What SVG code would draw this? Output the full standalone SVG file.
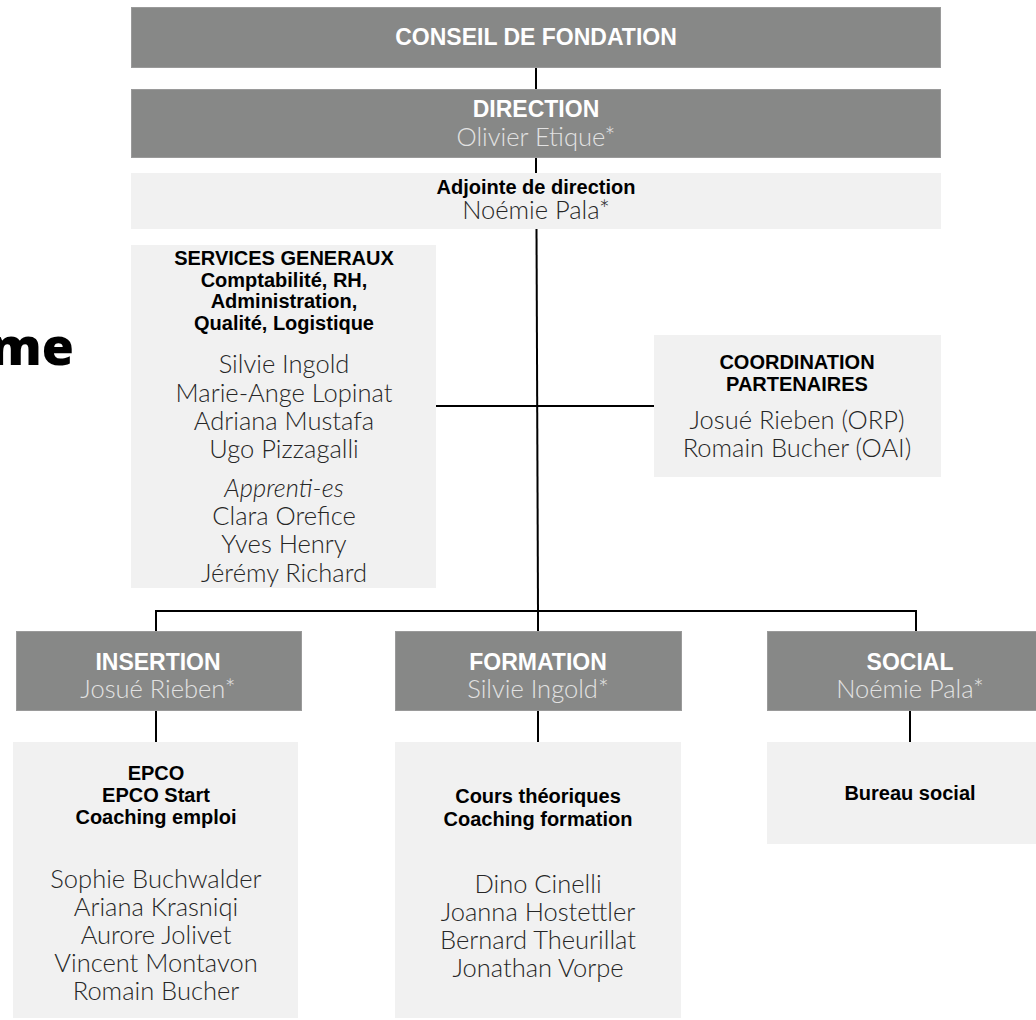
<svg xmlns="http://www.w3.org/2000/svg" width="1036" height="1020" viewBox="0 0 1036 1020">
<style>
.dark{fill:#878887;stroke:#9a9a9a;stroke-width:1}
.light{fill:#f1f1f1}
.h1{font-family:"Liberation Sans",Arial,sans-serif;font-weight:bold;font-size:23px;fill:#ffffff;text-anchor:middle}
.h2{font-family:"Liberation Sans",Arial,sans-serif;font-weight:bold;font-size:20px;fill:#000000;text-anchor:middle}
.nm{font-family:Lato,"Open Sans",sans-serif;font-weight:300;font-size:25.5px;fill:#262626;text-anchor:middle}
.nmw{font-family:Lato,"Open Sans",sans-serif;font-weight:300;font-size:25.5px;fill:#e2e2e2;text-anchor:middle}
.ln{stroke:#000;stroke-width:2;fill:none}
</style>
<rect width="1036" height="1020" fill="#ffffff"/>
<text x="74" y="365" font-family="'Open Sans',sans-serif" font-weight="800" font-size="52" text-anchor="end" fill="#000">me</text>
<g id="connectors">
<line class="ln" x1="536" y1="67" x2="536" y2="89"/>
<line class="ln" x1="536" y1="157" x2="536" y2="173"/>
<line class="ln" x1="536.5" y1="229" x2="538" y2="612"/>
<line class="ln" x1="436" y1="406" x2="655" y2="406"/>
<polyline class="ln" points="156,631 156,611 916,611 916,631"/>
<line class="ln" x1="538" y1="611" x2="538" y2="631"/>
<line class="ln" x1="156" y1="710" x2="156" y2="742"/>
<line class="ln" x1="538" y1="710" x2="538" y2="742"/>
<line class="ln" x1="910" y1="710" x2="910" y2="742"/>
</g>
<g id="conseil">
<rect class="dark" x="131.5" y="7.5" width="809" height="60"/>
<text class="h1" x="536" y="45">CONSEIL DE FONDATION</text>
</g>
<g id="direction">
<rect class="dark" x="131.5" y="89.5" width="809" height="68"/>
<text class="h1" x="536" y="117">DIRECTION</text>
<text class="nmw" x="536" y="146">Olivier Etique*</text>
</g>
<g id="adjointe">
<rect class="light" x="131" y="173" width="810" height="56"/>
<text class="h2" x="536" y="194">Adjointe de direction</text>
<text class="nm" x="536" y="219">Noémie Pala*</text>
</g>
<g id="services">
<rect class="light" x="131" y="245" width="305" height="343"/>
<text class="h2" x="284" y="265">SERVICES GENERAUX</text>
<text class="h2" x="284" y="287">Comptabilité, RH,</text>
<text class="h2" x="284" y="308">Administration,</text>
<text class="h2" x="284" y="330">Qualité, Logistique</text>
<text class="nm" x="284" y="373">Silvie Ingold</text>
<text class="nm" x="284" y="402">Marie-Ange Lopinat</text>
<text class="nm" x="284" y="430">Adriana Mustafa</text>
<text class="nm" x="284" y="458">Ugo Pizzagalli</text>
<text class="nm" x="284" y="497" font-style="italic">Apprenti-es</text>
<text class="nm" x="284" y="525">Clara Orefice</text>
<text class="nm" x="284" y="553">Yves Henry</text>
<text class="nm" x="284" y="582">Jérémy Richard</text>
</g>
<g id="coordination">
<rect class="light" x="654" y="335" width="287" height="142"/>
<text class="h2" x="797" y="369">COORDINATION</text>
<text class="h2" x="797" y="391">PARTENAIRES</text>
<text class="nm" x="797" y="429">Josué Rieben (ORP)</text>
<text class="nm" x="797" y="457">Romain Bucher (OAI)</text>
</g>
<g id="insertion">
<rect class="dark" x="16.5" y="631.5" width="285" height="79"/>
<text class="h1" x="158" y="670">INSERTION</text>
<text class="nmw" x="158" y="698">Josué Rieben*</text>
</g>
<g id="formation">
<rect class="dark" x="395.5" y="631.5" width="286" height="79"/>
<text class="h1" x="538" y="670">FORMATION</text>
<text class="nmw" x="538" y="698">Silvie Ingold*</text>
</g>
<g id="social">
<rect class="dark" x="767.5" y="631.5" width="286" height="79"/>
<text class="h1" x="910" y="670">SOCIAL</text>
<text class="nmw" x="910" y="698">Noémie Pala*</text>
</g>
<g id="insertion-team">
<rect class="light" x="13" y="742" width="285" height="276"/>
<text class="h2" x="156" y="780">EPCO</text>
<text class="h2" x="156" y="802">EPCO Start</text>
<text class="h2" x="156" y="824">Coaching emploi</text>
<text class="nm" x="156" y="888">Sophie Buchwalder</text>
<text class="nm" x="156" y="916">Ariana Krasniqi</text>
<text class="nm" x="156" y="944">Aurore Jolivet</text>
<text class="nm" x="156" y="972">Vincent Montavon</text>
<text class="nm" x="156" y="1000">Romain Bucher</text>
</g>
<g id="formation-team">
<rect class="light" x="395" y="742" width="286" height="276"/>
<text class="h2" x="538" y="803">Cours théoriques</text>
<text class="h2" x="538" y="826">Coaching formation</text>
<text class="nm" x="538" y="893">Dino Cinelli</text>
<text class="nm" x="538" y="921">Joanna Hostettler</text>
<text class="nm" x="538" y="949">Bernard Theurillat</text>
<text class="nm" x="538" y="977">Jonathan Vorpe</text>
</g>
<g id="social-team">
<rect class="light" x="767" y="742" width="290" height="102"/>
<text class="h2" x="910" y="800">Bureau social</text>
</g>
</svg>
